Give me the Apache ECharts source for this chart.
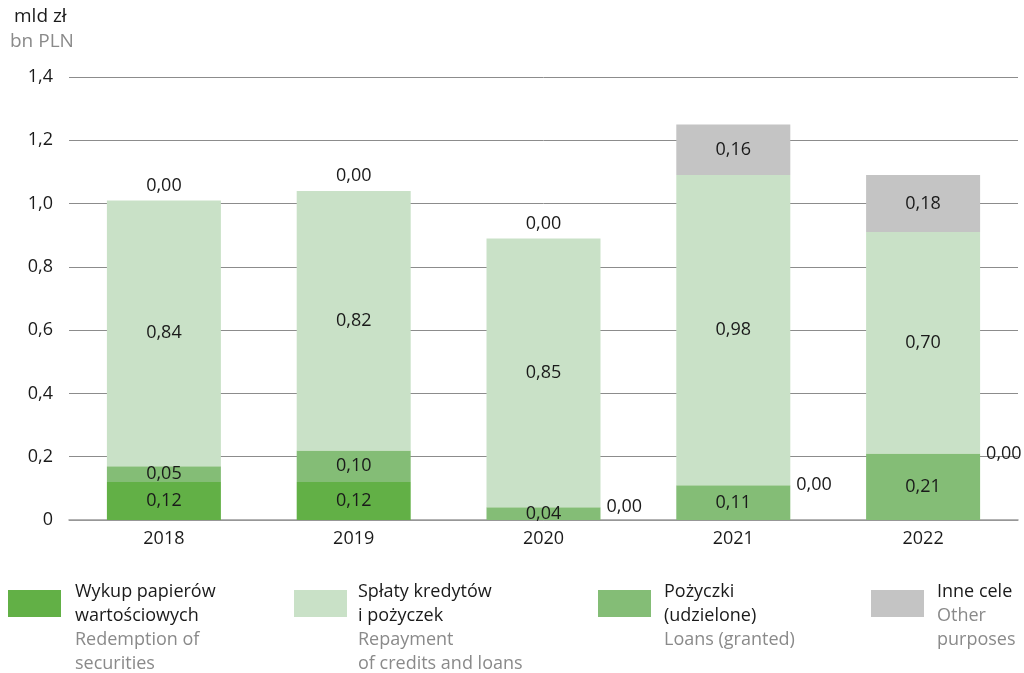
<!DOCTYPE html>
<html>
<head>
<meta charset="utf-8">
<script src="https://cdn.jsdelivr.net/npm/echarts@6/dist/echarts.min.js"></script>
<style>
html,body{margin:0;padding:0;background:#fff;}
#chart{width:1024px;height:673px;}
</style>
</head>
<body>
<div id="chart"></div>
<script>
const categories = ['2018', '2019', '2020', '2021', '2022'];
const wykup    = [0.12, 0.12, 0.00, 0.00, 0.00];
const pozyczki = [0.05, 0.10, 0.04, 0.11, 0.21];
const splaty   = [0.84, 0.82, 0.85, 0.98, 0.70];
const inne     = [0.00, 0.00, 0.00, 0.16, 0.18];
const yTicks = { min: 0, max: 1.4, interval: 0.2 };
const unitPl = 'mld zł';
const unitEn = 'bn PLN';
const legendPl = ['Wykup papierów\nwartościowych', 'Spłaty kredytów\ni pożyczek', 'Pożyczki\n(udzielone)', 'Inne cele'];
const legendEn = ['Redemption of\nsecurities', 'Repayment\nof credits and loans', 'Loans (granted)', 'Other\npurposes'];

const FONT = '"Open Sans", sans-serif';
const C = { wykup: '#62b046', poz: '#84bd76', spl: '#c9e1c7', inne: '#c4c4c4' };
const fmt = v => v.toFixed(2).replace('.', ',');
const txt = '#1a1a1a';
const FS = 18;
const labelBase = { show: true, color: txt, fontFamily: FONT, fontSize: FS, formatter: p => fmt(p.value) };

const chart = echarts.init(document.getElementById('chart'));

const legendX = [[8, 75], [294, 358], [598, 664], [871, 937]];
const legendColors = [C.wykup, C.spl, C.poz, C.inne];
const graphics = [
  { type: 'text', left: 14, top: 7, style: { text: unitPl, fill: txt, font: '19px ' + FONT } },
  { type: 'text', left: 10, top: 32, style: { text: unitEn, fill: '#8a8a8a', font: '19px ' + FONT } }
];
legendPl.forEach((t, i) => {
  graphics.push({ type: 'rect', shape: { x: legendX[i][0], y: 590, width: 53, height: 27 }, style: { fill: legendColors[i] } });
  graphics.push({ type: 'text', x: legendX[i][1], y: 580, style: {
    text: '{a|' + t.split('\n').join('}\n{a|') + '}\n{b|' + legendEn[i].split('\n').join('}\n{b|') + '}',
    rich: {
      a: { fill: txt, fontSize: FS, fontFamily: FONT, lineHeight: 24 },
      b: { fill: '#8a8a8a', fontSize: FS, fontFamily: FONT, lineHeight: 24 }
    }
  } });
});

const option = {
  animation: false,
  grid: { left: 69, right: 6, top: 77, bottom: 153 },
  graphic: graphics,
  xAxis: {
    type: 'category', data: categories,
    axisLine: { lineStyle: { color: '#9a9a9a', width: 1.5 } },
    axisTick: { show: false },
    axisLabel: { color: txt, fontFamily: FONT, fontSize: FS, margin: 10 }
  },
  yAxis: {
    type: 'value', min: yTicks.min, max: yTicks.max, interval: yTicks.interval,
    axisLine: { show: false }, axisTick: { show: false },
    splitLine: { lineStyle: { color: '#8c8c8c', width: 1 } },
    axisLabel: { color: txt, fontFamily: FONT, fontSize: FS, margin: 16,
      formatter: v => v === 0 ? '0' : v.toFixed(1).replace('.', ',') }
  },
  series: [
    { name: 'wykup', type: 'bar', stack: 's', barWidth: 114, itemStyle: { color: C.wykup },
      data: wykup.map(v => v > 0 ? v : '-'), label: Object.assign({}, labelBase, { position: 'inside' }) },
    { name: 'pozyczki', type: 'bar', stack: 's', itemStyle: { color: C.poz },
      data: pozyczki, label: Object.assign({}, labelBase, { position: 'inside' }) },
    { name: 'wykup0', type: 'bar', stack: 's', itemStyle: { color: C.wykup },
      data: wykup.map(v => v > 0 ? '-' : v), label: Object.assign({}, labelBase, { position: 'right', distance: 6 }) },
    { name: 'splaty', type: 'bar', stack: 's', itemStyle: { color: C.spl },
      data: splaty, label: Object.assign({}, labelBase, { position: 'inside' }) },
    { name: 'inne', type: 'bar', stack: 's', itemStyle: { color: C.inne },
      data: inne.map(v => ({ value: v, label: { position: v === 0 ? 'top' : 'inside' } })),
      label: Object.assign({}, labelBase, { distance: 6 }) }
  ]
};
chart.setOption(option);
</script>
</body>
</html>
